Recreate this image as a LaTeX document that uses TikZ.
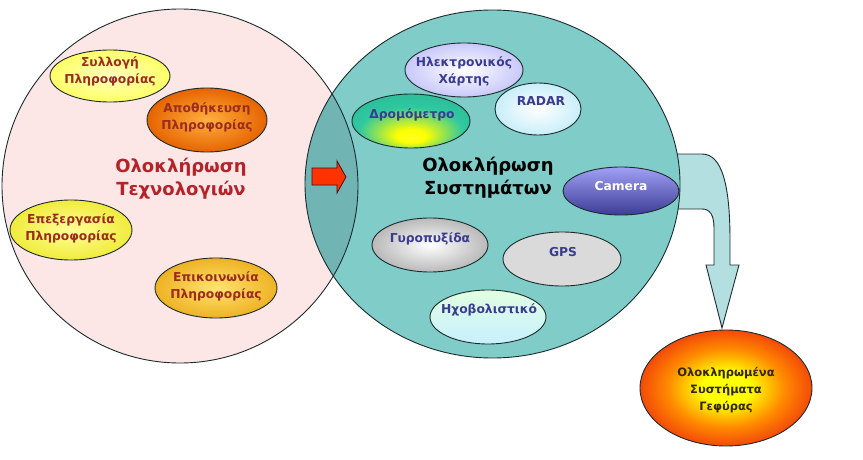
\documentclass[tikz,border=0pt]{standalone}
\usepackage{fontspec}
\setmainfont{DejaVu Sans}
\usetikzlibrary{shapes.geometric}
\definecolor{outl}{HTML}{1C2B2B}
\definecolor{pinkc}{HTML}{FDE6E6}
\definecolor{tealc}{HTML}{7FCCC9}
\definecolor{overl}{HTML}{70B4B3}
\definecolor{crim}{HTML}{B4232A}
\definecolor{dred}{HTML}{9B2C1F}
\definecolor{navy}{HTML}{3B3B8F}
\definecolor{bandc}{HTML}{B4DFE0}
\definecolor{arrred}{HTML}{FF3300}
\definecolor{dgreen}{HTML}{2FC8A0}
\definecolor{fred}{HTML}{F03A0A}
\definecolor{fedge}{HTML}{D82808}
\definecolor{forange}{HTML}{FF8A00}
\pgfdeclareradialshading{dromo}{\pgfpoint{0bp}{-16bp}}{color(0bp)=(yellow!85!white); color(6bp)=(yellow); color(22bp)=(dgreen); color(50bp)=(dgreen!85!black)}
\pgfdeclareradialshading{fireball}{\pgfpoint{0bp}{0bp}}{color(0bp)=(yellow); color(7bp)=(yellow); color(17bp)=(forange); color(27bp)=(fred); color(36bp)=(fedge); color(50bp)=(fedge)}
\tikzset{
  ell/.style={ellipse, draw=outl, line width=0.9pt, inner sep=0pt},
  ltxt/.style={align=center, inner sep=0pt, text=dred, font=\bfseries\fontsize{12.3}{17}\selectfont},
  rtxt/.style={align=center, inner sep=0pt, text=navy, font=\bfseries\fontsize{12.3}{17}\selectfont},
  bigtxt/.style={align=center, inner sep=0pt, font=\bfseries\fontsize{18}{23}\selectfont},
}
\begin{document}
\begin{tikzpicture}[x=1pt,y=-1pt]
\useasboundingbox (0,0) rectangle (863,460);
% band arrow (behind right circle)
\draw[fill=bandc, draw=outl, line width=0.9pt]
  (660,154) -- (702,154) .. controls (722,154) and (730,185) .. (730,240) -- (730,265)
  -- (739,265) -- (722,328) -- (706,265) -- (714,265) -- (714,228)
  .. controls (714,215) and (710,209) .. (702,209) -- (660,209) -- cycle;
% circles
\fill[pinkc] (180,186) ellipse [x radius=178pt, y radius=177pt];
\fill[tealc] (492.5,184) ellipse [x radius=187.5pt, y radius=174pt];
\begin{scope}
  \clip (180,186) ellipse [x radius=178pt, y radius=177pt];
  \fill[overl] (492.5,184) ellipse [x radius=187.5pt, y radius=174pt];
\end{scope}
\draw[outl, line width=0.9pt] (180,186) ellipse [x radius=178pt, y radius=177pt];
\draw[outl, line width=0.9pt] (492.5,184) ellipse [x radius=187.5pt, y radius=174pt];
% red arrow
\draw[fill=arrred, draw=outl!60!red!60!black, line width=0.8pt]
  (312,168) -- (337,168) -- (337,161) -- (346,177) -- (337,193) -- (337,185) -- (312,185) -- cycle;
% left ellipses
\node[ell, minimum width=120pt, minimum height=52pt, inner color=yellow!25!white, outer color=yellow!60!white] (syl) at (110,76) {};
\node[ltxt] (tsyl) at (110,71.5) {Συλλογή\\Πληροφορίας};
\node[ell, minimum width=120pt, minimum height=64pt, inner color={rgb,255:red,255;green,176;blue,64}, outer color={rgb,255:red,230;green,100;blue,0}] (apo) at (207,120) {};
\node[ltxt] (tapo) at (207,117.5) {Αποθήκευση\\Πληροφορίας};
\node[ell, minimum width=122pt, minimum height=60pt, inner color=yellow!40!white, outer color={rgb,255:red,240;green,235;blue,60}] (epe) at (71,230) {};
\node[ltxt] (tepe) at (71,228.5) {Επεξεργασία\\Πληροφορίας};
\node[ell, minimum width=122pt, minimum height=60pt, inner color={rgb,255:red,255;green,228;blue,110}, outer color={rgb,255:red,238;green,178;blue,36}] (epi) at (216,288) {};
\node[ltxt] (tepi) at (216,286.5) {Επικοινωνία\\Πληροφορίας};
\node[bigtxt, text=crim] (tech) at (181,179) {Ολοκλήρωση\\Τεχνολογιών};
% right ellipses
\node[ell, minimum width=118pt, minimum height=54pt, inner color=white, outer color={rgb,255:red,200;green,200;blue,250}] (map) at (464,70) {};
\node[rtxt] (tmap) at (464,71.5) {Ηλεκτρονικός\\Χάρτης};
\node[ell, minimum width=86pt, minimum height=52pt, inner color=white, outer color={rgb,255:red,200;green,238;blue,250}] (radar) at (538,109) {};
\node[rtxt] (tradar) at (541,101) {RADAR};
\node[ell, minimum width=118pt, minimum height=54pt, shading=dromo] (dromo) at (411,121) {};
\node[rtxt] (tdromo) at (412,115) {Δρομόμετρο};
\node[bigtxt, text=black] (sys) at (488,178) {Ολοκλήρωση\\Συστημάτων};
\node[ell, minimum width=116pt, minimum height=48pt, top color={rgb,255:red,160;green,160;blue,245}, bottom color={rgb,255:red,60;green,60;blue,150}] (cam) at (621,191) {};
\node[rtxt, text=white] (tcam) at (621,186) {Camera};
\node[ell, minimum width=116pt, minimum height=54pt, inner color=white, outer color={rgb,255:red,185;green,185;blue,185}] (gyro) at (430,245) {};
\node[rtxt] (tgyro) at (430,239) {Γυροπυξίδα};
\node[ell, minimum width=118pt, minimum height=54pt, fill={rgb,255:red,218;green,218;blue,218}] (gps) at (562,259) {};
\node[rtxt] (tgps) at (563,252) {GPS};
\node[ell, minimum width=116pt, minimum height=54pt, top color={rgb,255:red,225;green,255;blue,225}, bottom color={rgb,255:red,200;green,240;blue,255}] (echo) at (488,317) {};
\node[rtxt] (techo) at (489,310) {Ηχοβολιστικό};
% final ellipse
\node[ell, minimum width=172pt, minimum height=116pt, shading=fireball] (fin) at (726,388) {};
\node[align=center, inner sep=0pt, text={rgb,255:red,50;green,40;blue,0}, font=\bfseries\fontsize{11.5}{17}\selectfont] (tfin) at (726,390) {Ολοκληρωμένα\\Συστήματα\\Γεφύρας};
\end{tikzpicture}
\end{document}
